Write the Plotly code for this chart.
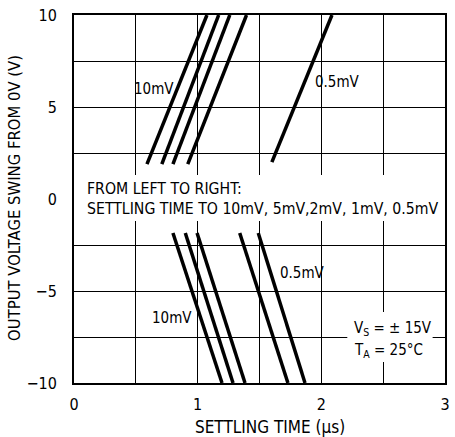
import plotly.graph_objects as go

# Settling time curves, left to right: 10mV, 5mV, 2mV, 1mV, 0.5mV
series = ["10mV", "5mV", "2mV", "1mV", "0.5mV"]
# positive swing: (time, volts) start and end
pos_t_start = [0.59, 0.71, 0.80, 0.92, 1.60]
pos_v_start = [1.9, 1.9, 1.9, 1.9, 2.0]
pos_t_end = [1.075, 1.17, 1.26, 1.395, 2.086]
pos_v_end = [10, 10, 10, 10, 10]
# negative swing
neg_t_start = [0.80, 0.90, 0.995, 1.34, 1.49]
neg_v_start = [-1.85, -1.85, -1.85, -1.85, -1.85]
neg_t_end = [1.197, 1.286, 1.383, 1.73, 1.868]
neg_v_end = [-10, -10, -10, -10, -10]

x_ticks = [0, 1, 2, 3]
y_ticks = [-10, -5, 0, 5, 10]

FONT = "Liberation Sans Narrow, DejaVu Sans Condensed, Arial Narrow, Liberation Sans, sans-serif"

fig = go.Figure()
for i, name in enumerate(series):
    fig.add_trace(go.Scatter(x=[pos_t_start[i], pos_t_end[i]], y=[pos_v_start[i], pos_v_end[i]],
                             mode="lines", line=dict(color="black", width=3.5), name=name,
                             showlegend=False, hoverinfo="skip"))
    fig.add_trace(go.Scatter(x=[neg_t_start[i], neg_t_end[i]], y=[neg_v_start[i], neg_v_end[i]],
                             mode="lines", line=dict(color="black", width=3.5), name=name,
                             showlegend=False, hoverinfo="skip"))

# white masks over grid (between grid and traces)
fig.add_shape(type="rect", xref="x", yref="y", x0=0, x1=3, y0=-1.2, y1=1.3,
              fillcolor="white", line=dict(width=0), layer="between")
fig.add_shape(type="rect", xref="x", yref="y", x0=2.21, x1=2.90, y0=-8.86, y1=-6.14,
              fillcolor="white", line=dict(width=0), layer="between")

tf = dict(family=FONT, size=15, color="black")
fig.add_annotation(x=0.09, y=0.05, xref="x", yref="y", xanchor="left", yanchor="middle", align="left",
                   text="FROM LEFT TO RIGHT:<br>SETTLING TIME TO 10mV, 5mV,2mV, 1mV, 0.5mV",
                   showarrow=False, font=dict(family=FONT, size=15.7, color="black"))
fig.add_annotation(x=0.65, y=6.0, text="10mV", showarrow=False, font=tf)
fig.add_annotation(x=2.13, y=6.36, text="0.5mV", showarrow=False, font=tf)
fig.add_annotation(x=0.79, y=-6.47, text="10mV", showarrow=False, font=tf)
fig.add_annotation(x=1.85, y=-4.02, text="0.5mV", showarrow=False, font=tf)
fig.add_annotation(x=2.25, y=-7.05, xanchor="left", text="V<sub>S</sub> = ± 15V", showarrow=False, font=tf)
fig.add_annotation(x=2.25, y=-8.25, xanchor="left", text="T<sub>A</sub> = 25°C", showarrow=False, font=tf)

# axis titles
fig.add_annotation(x=-0.159, y=0.503, xref="paper", yref="paper", textangle=-90,
                   xanchor="center", yanchor="middle",
                   text="OUTPUT VOLTAGE SWING FROM 0V (V)", showarrow=False,
                   font=dict(family=FONT, size=16.5, color="black"))
fig.add_annotation(x=0.527, y=-0.12, xref="paper", yref="paper", xanchor="center", yanchor="middle",
                   text="SETTLING TIME (μs)", showarrow=False,
                   font=dict(family=FONT, size=17, color="black"))

fig.update_xaxes(range=[0, 3], tickvals=x_ticks, ticktext=[str(v) for v in x_ticks],
                 showgrid=True, gridcolor="black", gridwidth=1.3,
                 minor=dict(tickvals=[0.5, 1.5, 2.5], showgrid=True, gridcolor="black", gridwidth=1.3),
                 showline=True, linecolor="black", linewidth=2, mirror=True,
                 ticks="outside", ticklen=6, tickcolor="rgba(0,0,0,0)", automargin=False,
                 zeroline=False, tickfont=dict(family=FONT, size=16, color="black"))
fig.update_yaxes(range=[-10, 10], tickvals=y_ticks, ticktext=["\u221210", "\u22125", "0", "5", "10"],
                 showgrid=True, gridcolor="black", gridwidth=1.3,
                 minor=dict(tickvals=[-7.5, -2.5, 2.5, 7.5], showgrid=True, gridcolor="black", gridwidth=1.3),
                 showline=True, linecolor="black", linewidth=2, mirror=True,
                 ticks="outside", ticklen=12, tickcolor="rgba(0,0,0,0)", automargin=False,
                 zeroline=False, tickfont=dict(family=FONT, size=16, color="black"))

fig.update_layout(width=455, height=437, margin=dict(l=74, r=10, t=15, b=54),
                  plot_bgcolor="white", paper_bgcolor="white", showlegend=False)

fig.write_html("out.html", config={"displayModeBar": False},
               post_script="document.body.style.margin='0';document.body.style.overflow='hidden';")
